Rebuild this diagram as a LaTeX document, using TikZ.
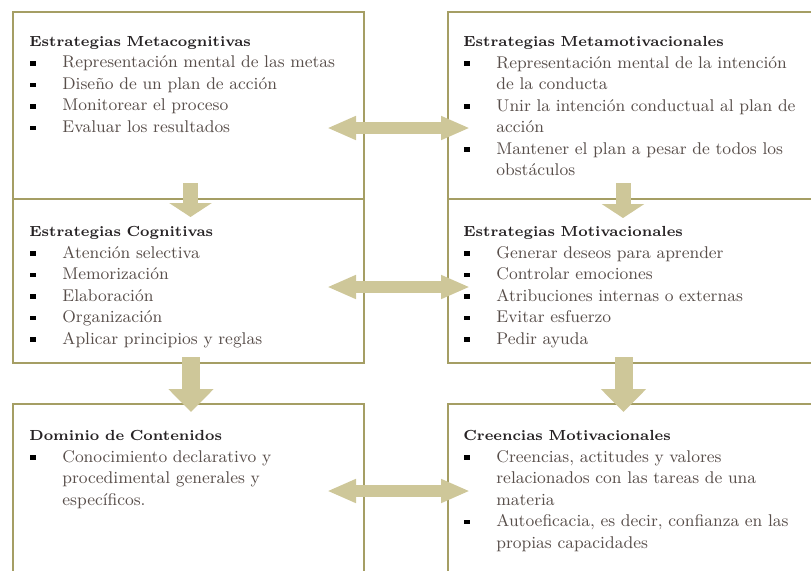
\documentclass[tikz,border=0pt]{standalone}
\usepackage{xcolor}
\usepackage{tikz}
\usetikzlibrary{arrows.meta}
\definecolor{marco}{RGB}{165,158,100}
\definecolor{flecha}{RGB}{206,199,153}
\definecolor{texto}{RGB}{88,78,74}
\definecolor{titulo}{RGB}{38,34,36}
\hyphenpenalty=10000
\tolerance=9999
\newcommand{\titulo}[1]{\noindent{\color{titulo}\fontsize{7.3}{10.75}\selectfont\bfseries #1}}
\newcommand{\vineta}[1]{\par\hangindent=16.5pt\hangafter=0\noindent\llap{\makebox[16pt][l]{\color{black}\rule[0.3ex]{3pt}{2.3pt}}}#1\par}

\begin{document}
\begin{tikzpicture}[x=0.5pt,y=-0.5pt,
  caja/.style={draw=marco, line width=1pt, inner sep=0pt, outer sep=0pt, anchor=north west},
  cajaizq/.style={caja, minimum width=175.5pt},
  cajader/.style={caja, minimum width=183pt},
  texto/.style={anchor=north west, inner sep=0pt, text=texto, font=\fontsize{8.5}{10.75}\selectfont},
  bajada/.style={draw=flecha, line width=7.5pt, -{Triangle[length=7pt,width=21pt]}},
  bajadag/.style={draw=flecha, line width=9pt, -{Triangle[length=11.5pt,width=22pt]}},
  enlace/.style={draw=flecha, line width=6pt, {Triangle[length=14.5pt,width=11pt]}-{Triangle[length=14.5pt,width=11pt]}}]

\useasboundingbox (0,0) rectangle (811,570);
\clip (0,0) rectangle (811,570);

\node[cajaizq, minimum height=93.5pt] (metacog) at (13,12) {};
\node[cajaizq, minimum height=82pt] (cog) at (13,199) {};
\node[cajaizq, minimum height=100pt] (dominio) at (13,404) {};
\node[cajader, minimum height=93.5pt] (metamot) at (448,12) {};
\node[cajader, minimum height=82pt] (mot) at (448,199) {};
\node[cajader, minimum height=100pt] (creencias) at (448,404) {};

\node[texto, text width=170pt] (metacogT) at (29,36) {%
  \titulo{Estrategias Metacognitivas}
  \vineta{Representación mental de las metas}
  \vineta{Diseño de un plan de acción}
  \vineta{Monitorear el proceso}
  \vineta{Evaluar los resultados}};

\node[texto, text width=170pt] (cogT) at (29,226) {%
  \titulo{Estrategias Cognitivas}
  \vineta{Atención selectiva}
  \vineta{Memorización}
  \vineta{Elaboración}
  \vineta{Organización}
  \vineta{Aplicar principios y reglas}};

\node[texto, text width=170pt] (dominioT) at (29,430) {%
  \titulo{Dominio de Contenidos}
  \vineta{Conocimiento declarativo y\newline procedimental generales y\newline específicos.}};

\node[texto, text width=168pt] (metamotT) at (463,36) {%
  \titulo{Estrategias Metamotivacionales}
  \vineta{Representación mental de la intención\linebreak de la conducta}
  \vineta{Unir la intención conductual al plan de\linebreak acción}
  \vineta{Mantener el plan a pesar de todos los\linebreak obstáculos}};

\node[texto, text width=175pt] (motT) at (463,226) {%
  \titulo{Estrategias Motivacionales}
  \vineta{Generar deseos para aprender}
  \vineta{Controlar emociones}
  \vineta{Atribuciones internas o externas}
  \vineta{Evitar esfuerzo}
  \vineta{Pedir ayuda}};

\node[texto, text width=175pt] (creenciasT) at (463,430) {%
  \titulo{Creencias Motivacionales}
  \vineta{Creencias, actitudes y valores\newline relacionados con las tareas de una\newline materia}
  \vineta{Autoeficacia, es decir, confianza en las\newline propias capacidades}};

\draw[bajada] ([xshift=1pt,yshift=8pt]metacog.south) -- ([xshift=1pt,yshift=-9pt]cog.north);
\draw[bajada] ([xshift=-4pt,yshift=8pt]metamot.south) -- ([xshift=-4pt,yshift=-9.5pt]mot.north);
\draw[bajadag] ([xshift=1.25pt,yshift=3pt]cog.south) -- ([xshift=1.25pt,yshift=-4pt]dominio.north);
\draw[bajadag] ([xshift=-3.75pt,yshift=3pt]mot.south) -- ([xshift=-3.75pt,yshift=-4pt]creencias.north);

\draw[enlace] ([xshift=-18.5pt,yshift=-58pt]metacog.north east) -- ([xshift=11pt,yshift=-58pt]metamot.north west);
\draw[enlace] ([xshift=-18.5pt,yshift=-44pt]cog.north east) -- ([xshift=11pt,yshift=-44pt]mot.north west);
\draw[enlace] ([xshift=-18.5pt,yshift=-43.5pt]dominio.north east) -- ([xshift=11pt,yshift=-43.5pt]creencias.north west);

\end{tikzpicture}
\end{document}
